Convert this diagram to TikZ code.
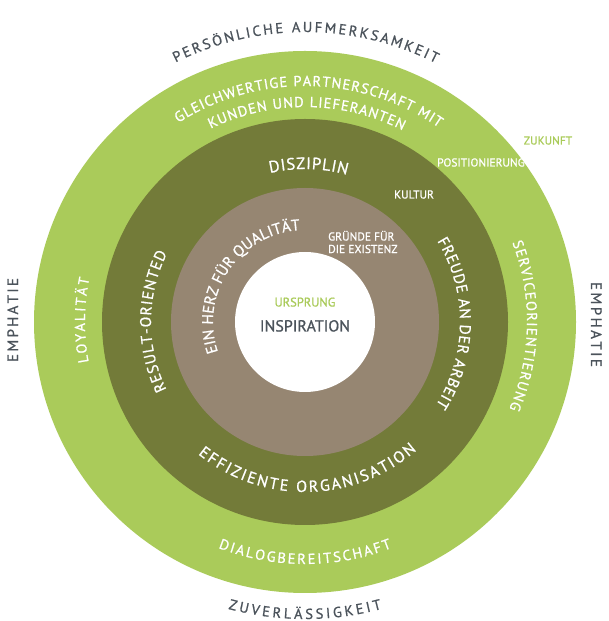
\documentclass[tikz,border=0pt]{standalone}
\usepackage{fontspec}
\setmainfont{PT Sans}
\newfontfamily\medfont{PT Sans}[FakeBold=0.9]
\usetikzlibrary{decorations.text}
\definecolor{lgreen}{HTML}{AACB5A}
\definecolor{olive}{HTML}{737B39}
\definecolor{taupe}{HTML}{968672}
\definecolor{slate}{HTML}{4B535B}
\newcommand{\fsz}[1]{\medfont\fontsize{#1}{#1}\selectfont}
\tikzset{
  ring/.style={circle, fill=#1, draw=none, inner sep=0pt, outer sep=0pt},
  arctext/.style n args={3}{decorate, decoration={text along path, text color=#1, text={|\fsz{#2}|#3}, text align={fit to path=true}}},
  label/.style n args={2}{text=#1, font=\fsz{#2}, inner sep=0pt, text height=0.7em, text depth=0pt},
}
\begin{document}
\begin{tikzpicture}
\useasboundingbox (0pt,0pt) rectangle (608pt,621pt);
\coordinate (c) at (305pt,299pt);
% rings
\node[ring=lgreen, minimum size=542pt] (outer) at (c) {};
\node[ring=olive, minimum size=406pt] (mid) at (c) {};
\node[ring=taupe, minimum size=268pt] (inner) at (c) {};
\node[ring=white, minimum size=140pt] (core) at (c) {};
% outer texts (outside ring)
\path[arctext={slate}{14.5}{PERSÖNLICHE AUFMERKSAMKEIT}] ([shift={(116.5:290pt)}]c) arc[start angle=116.5, end angle=63.2, radius=290pt];
\path[arctext={slate}{14.5}{ZUVERLÄSSIGKEIT}] ([shift={(255:297pt)}]c) arc[start angle=255, end angle=285, radius=297pt];
\path[arctext={slate}{15}{EMPHATIE}] (18pt,259pt) -- (18pt,343pt);
\path[arctext={slate}{15}{EMPHATIE}] (591pt,339pt) -- (591pt,254pt);
% light green ring texts
\path[arctext={white}{14.5}{GLEICHWERTIGE PARTNERSCHAFT MIT}] ([shift={(122.5:236pt)}]c) arc[start angle=122.5, end angle=55.5, radius=236pt];
\path[arctext={white}{14.5}{KUNDEN UND LIEFERANTEN}] ([shift={(116:215pt)}]c) arc[start angle=116, end angle=63, radius=215pt];
\path[arctext={white}{14.5}{LOYALITÄT}] ([shift={(190.5:220pt)}]c) arc[start angle=190.5, end angle=168.5, radius=220pt];
\path[arctext={white}{14.5}{SERVICEORIENTIERUNG}] ([shift={(21:222pt)}]c) arc[start angle=21, end angle=-23, radius=222pt];
\path[arctext={white}{14.5}{DIALOGBEREITSCHAFT}] ([shift={(249:242pt)}]c) arc[start angle=249, end angle=291, radius=242pt];
% olive ring texts
\path[arctext={white}{16.5}{DISZIPLIN}] ([shift={(103.2:153pt)}]c) arc[start angle=103.2, end angle=74.1, radius=153pt];
\path[arctext={white}{15.5}{RESULT-ORIENTED}] ([shift={(206:154pt)}]c) arc[start angle=206, end angle=153.5, radius=154pt];
\path[arctext={white}{15.5}{FREUDE AN DER ARBEIT}] ([shift={(31.5:155pt)}]c) arc[start angle=31.5, end angle=-32.5, radius=155pt];
\path[arctext={white}{16}{EFFIZIENTE ORGANISATION}] ([shift={(231:170pt)}]c) arc[start angle=231, end angle=311, radius=170pt];
% taupe ring text
\path[arctext={white}{15.5}{EIN HERZ FÜR QUALITÄT}] ([shift={(199:92pt)}]c) arc[start angle=199, end angle=93, radius=92pt];
% straight labels
\node[label={lgreen}{11.5}] (zukunft) at (548pt,480pt) {ZUKUNFT};
\node[label={white}{11.5}] (pos) at (481pt,458pt) {POSITIONIERUNG};
\node[label={white}{11.5}] (kultur) at (414pt,426pt) {KULTUR};
\node[text=white, font=\fsz{11.5}, inner sep=0pt, align=left, anchor=west] (gruende) at (328pt,379pt) {GRÜNDE FÜR\\[1pt]DIE EXISTENZ};
\node[label={lgreen}{12.5}] (ursprung) at (305pt,318pt) {URSPRUNG};
\node[label={slate}{16}] (insp) at (305pt,293pt) {INSPIRATION};
\end{tikzpicture}
\end{document}
